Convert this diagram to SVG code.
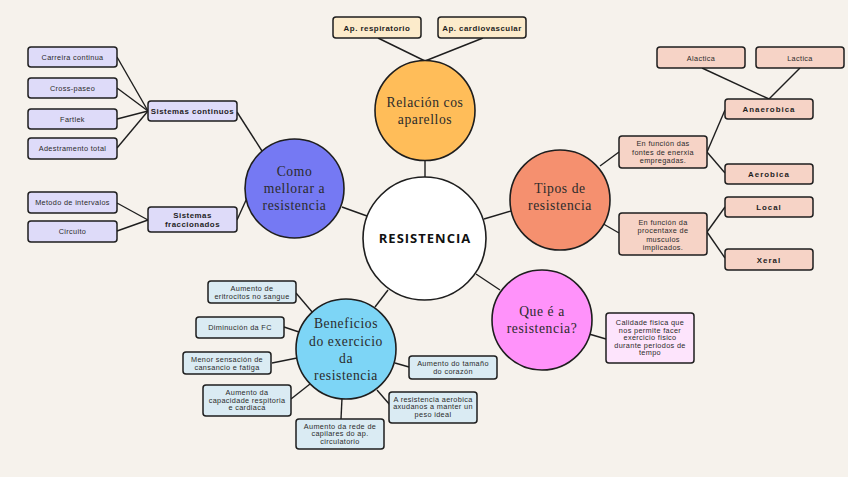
<svg xmlns="http://www.w3.org/2000/svg" width="848" height="477" viewBox="0 0 848 477">
<style>
.bg{fill:#f6f2ec}
.ln{stroke:#1e1e1e;stroke-width:1.4;fill:none}
.c{stroke:#1e1e1e;stroke-width:1.6}
.b{stroke:#1e1e1e;stroke-width:1.5}
.ct{font-family:"Liberation Serif","DejaVu Serif",serif;font-size:13.6px;fill:#2b2b2b;text-anchor:middle;letter-spacing:0.6px}
.bt{font-family:"Liberation Sans","DejaVu Sans",sans-serif;font-size:7.3px;fill:#2b2b2b;text-anchor:middle;letter-spacing:0.35px}
.bb{font-family:"Liberation Sans","DejaVu Sans",sans-serif;font-size:7.9px;font-weight:bold;fill:#1e1e1e;text-anchor:middle;letter-spacing:0.5px}
.main{font-family:"Open Sans","Liberation Sans",sans-serif;font-size:13px;font-weight:bold;fill:#111;text-anchor:middle;letter-spacing:1px}
.pu{fill:#dedbf9}.ye{fill:#fcebcb}.sa{fill:#f6d3c6}.pk{fill:#fde4fc}.bl{fill:#daebf3}
</style>
<rect class="bg" x="0" y="0" width="848" height="477"/>
<g id="connectors">
<line class="ln" x1="425" y1="160" x2="425" y2="177"/>
<line class="ln" x1="342" y1="207" x2="367" y2="216"/>
<line class="ln" x1="484" y1="219" x2="511" y2="211"/>
<line class="ln" x1="476" y1="274" x2="500" y2="290"/>
<line class="ln" x1="388" y1="290" x2="375" y2="307"/>
<line class="ln" x1="378" y1="38" x2="425" y2="61"/>
<line class="ln" x1="483" y1="38" x2="425" y2="61"/>
<line class="ln" x1="117" y1="57" x2="148" y2="111"/>
<line class="ln" x1="117" y1="88" x2="148" y2="111"/>
<line class="ln" x1="117" y1="119" x2="148" y2="111"/>
<line class="ln" x1="117" y1="148" x2="148" y2="111"/>
<line class="ln" x1="237" y1="112" x2="262" y2="151"/>
<line class="ln" x1="117" y1="203" x2="148" y2="220"/>
<line class="ln" x1="117" y1="231" x2="148" y2="220"/>
<line class="ln" x1="237" y1="220" x2="247" y2="198"/>
<line class="ln" x1="702" y1="68" x2="769" y2="99"/>
<line class="ln" x1="800" y1="68" x2="769" y2="99"/>
<line class="ln" x1="600" y1="166" x2="619" y2="152"/>
<line class="ln" x1="600" y1="222" x2="619" y2="233"/>
<line class="ln" x1="707" y1="152" x2="725" y2="110"/>
<line class="ln" x1="707" y1="152" x2="725" y2="173"/>
<line class="ln" x1="707" y1="232" x2="725" y2="207"/>
<line class="ln" x1="707" y1="232" x2="725" y2="258"/>
<line class="ln" x1="589" y1="334" x2="606" y2="339"/>
<line class="ln" x1="296" y1="293" x2="313" y2="313"/>
<line class="ln" x1="284" y1="327" x2="299" y2="332"/>
<line class="ln" x1="272" y1="363" x2="297" y2="358"/>
<line class="ln" x1="291" y1="399" x2="310" y2="384"/>
<line class="ln" x1="341" y1="419" x2="342" y2="398"/>
<line class="ln" x1="395" y1="363" x2="409" y2="367"/>
<line class="ln" x1="377" y1="390" x2="390" y2="405"/>
</g>
<g id="resistencia">
<circle class="c" cx="424.5" cy="238.5" r="61.5" fill="#ffffff"/>
<text class="main" x="425" y="243">RESISTENCIA</text>
</g>
<g id="relacion">
<circle class="c" cx="425" cy="110.5" r="50" fill="#ffbd59"/>
<text class="ct" x="425" y="106.5">Relación cos</text>
<text class="ct" x="425" y="124">aparellos</text>
</g>
<g id="como">
<circle class="c" cx="294.5" cy="188.5" r="49.5" fill="#7579f3"/>
<text class="ct" x="294.5" y="175.5">Como</text>
<text class="ct" x="294.5" y="192.5">mellorar a</text>
<text class="ct" x="294.5" y="210">resistencia</text>
</g>
<g id="tipos">
<circle class="c" cx="560" cy="200" r="50" fill="#f5906f"/>
<text class="ct" x="560" y="192.5">Tipos de</text>
<text class="ct" x="560" y="210">resistencia</text>
</g>
<g id="quee">
<circle class="c" cx="542" cy="320" r="50" fill="#ff92fa"/>
<text class="ct" x="542" y="315.5">Que é a</text>
<text class="ct" x="542" y="333">resistencia?</text>
</g>
<g id="beneficios">
<circle class="c" cx="346" cy="349" r="50" fill="#7dd5f6"/>
<text class="ct" x="346" y="328">Beneficios</text>
<text class="ct" x="346" y="345.5">do exercicio</text>
<text class="ct" x="346" y="363">da</text>
<text class="ct" x="346" y="380">resistencia</text>
</g>
<g id="ap-resp"><rect class="b ye" x="333" y="17" width="88" height="21" rx="3"/><text class="bb" x="377" y="30.5">Ap. respiratorio</text></g>
<g id="ap-card"><rect class="b ye" x="438" y="17" width="88" height="21" rx="3"/><text class="bb" x="482" y="30.5">Ap. cardiovascular</text></g>
<g id="carreira"><rect class="b pu" x="28" y="47" width="89" height="20" rx="3"/><text class="bt" x="72.5" y="59.5">Carreira continua</text></g>
<g id="cross"><rect class="b pu" x="28" y="78" width="89" height="20" rx="3"/><text class="bt" x="72.5" y="90.5">Cross-paseo</text></g>
<g id="fartlek"><rect class="b pu" x="28" y="109" width="89" height="20" rx="3"/><text class="bt" x="72.5" y="121.5">Fartlek</text></g>
<g id="adestramento"><rect class="b pu" x="28" y="138" width="89" height="21" rx="3"/><text class="bt" x="72.5" y="151">Adestramento total</text></g>
<g id="continuos"><rect class="b pu" x="148" y="101" width="89" height="20" rx="3"/><text class="bb" x="192.5" y="114">Sistemas continuos</text></g>
<g id="metodo"><rect class="b pu" x="28" y="192" width="89" height="21" rx="3"/><text class="bt" x="72.5" y="205">Metodo de intervalos</text></g>
<g id="circuito"><rect class="b pu" x="28" y="221" width="89" height="21" rx="3"/><text class="bt" x="72.5" y="234">Circuito</text></g>
<g id="fraccionados"><rect class="b pu" x="148" y="207" width="89" height="25" rx="3"/><text class="bb" x="192.5" y="217.5">Sistemas</text><text class="bb" x="192.5" y="226.5">fraccionados</text></g>
<g id="alactica"><rect class="b sa" x="657" y="47" width="88" height="21" rx="3"/><text class="bt" x="701" y="60.5">Alactica</text></g>
<g id="lactica"><rect class="b sa" x="756" y="47" width="88" height="21" rx="3"/><text class="bt" x="800" y="60.5">Lactica</text></g>
<g id="anaerobica"><rect class="b sa" x="725" y="99" width="88" height="20" rx="3"/><text class="bb" x="769" y="112" style="letter-spacing:1px">Anaerobica</text></g>
<g id="aerobica"><rect class="b sa" x="725" y="164" width="88" height="20" rx="3"/><text class="bb" x="769" y="177" style="letter-spacing:1px">Aerobica</text></g>
<g id="local"><rect class="b sa" x="725" y="197" width="88" height="20" rx="3"/><text class="bb" x="769" y="210" style="letter-spacing:1px">Local</text></g>
<g id="xeral"><rect class="b sa" x="725" y="249" width="88" height="21" rx="3"/><text class="bb" x="769" y="262.5" style="letter-spacing:1px">Xeral</text></g>
<g id="fontes"><rect class="b sa" x="619" y="136" width="88" height="32" rx="3"/><text class="bt" x="663" y="146">En función das</text><text class="bt" x="663" y="154.5">fontes de enerxia</text><text class="bt" x="663" y="163">empregadas.</text></g>
<g id="procentaxe"><rect class="b sa" x="619" y="213" width="88" height="42" rx="3"/><text class="bt" x="663" y="224.5">En función da</text><text class="bt" x="663" y="233">procentaxe de</text><text class="bt" x="663" y="241.5">musculos</text><text class="bt" x="663" y="249.5">implicados.</text></g>
<g id="calidade"><rect class="b pk" x="606" y="313" width="88" height="50" rx="3"/><text class="bt" x="650" y="325">Calidade fisica que</text><text class="bt" x="650" y="332.5">nos permite facer</text><text class="bt" x="650" y="340">exercicio fisico</text><text class="bt" x="650" y="347.7">durante periodos de</text><text class="bt" x="650" y="355.4">tempo</text></g>
<g id="eritrocitos"><rect class="b bl" x="208" y="281" width="88" height="22" rx="3"/><text class="bt" x="252" y="290.5">Aumento de</text><text class="bt" x="252" y="298.5">eritrocitos no sangue</text></g>
<g id="fc"><rect class="b bl" x="196" y="317" width="88" height="21" rx="3"/><text class="bt" x="240" y="330">Diminución da FC</text></g>
<g id="menor"><rect class="b bl" x="183" y="352" width="88" height="22" rx="3"/><text class="bt" x="227" y="361.5">Menor sensación de</text><text class="bt" x="227" y="369.5">cansancio e fatiga</text></g>
<g id="capacidade"><rect class="b bl" x="203" y="385" width="88" height="31" rx="3"/><text class="bt" x="247" y="395">Aumento da</text><text class="bt" x="247" y="402.7">capacidade respitoria</text><text class="bt" x="247" y="410.3">e cardiaca</text></g>
<g id="rede"><rect class="b bl" x="296" y="419" width="88" height="30" rx="3"/><text class="bt" x="340" y="428.5">Aumento da rede de</text><text class="bt" x="340" y="436.2">capilares do ap.</text><text class="bt" x="340" y="443.8">circulatorio</text></g>
<g id="tamano"><rect class="b bl" x="409" y="356" width="88" height="23" rx="3"/><text class="bt" x="453" y="366">Aumento do tamaño</text><text class="bt" x="453" y="373.5">do corazón</text></g>
<g id="aerobica-peso"><rect class="b bl" x="389" y="392" width="88" height="31" rx="3"/><text class="bt" x="433" y="401.7">A resistencia aerobica</text><text class="bt" x="433" y="409.4">axudanos a manter un</text><text class="bt" x="433" y="417">peso ideal</text></g>
</svg>
